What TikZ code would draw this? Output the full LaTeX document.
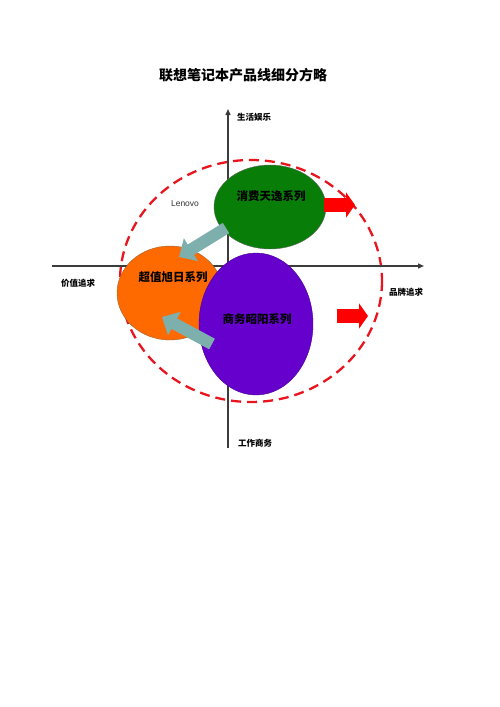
\documentclass[tikz,border=0pt]{standalone}
\usepackage{fontspec}
\setmainfont{Noto Sans CJK SC}
\newfontfamily\latinfont{Liberation Sans}
\usepackage{tikz}
\usetikzlibrary{arrows.meta,shapes.geometric}

\definecolor{tianyigreen}{RGB}{8,125,8}
\definecolor{xuriorange}{RGB}{255,106,0}
\definecolor{zhaoyangpurple}{RGB}{102,0,204}
\definecolor{movegray}{RGB}{125,175,172}
\definecolor{axisgray}{RGB}{60,60,60}
\definecolor{marketred}{RGB}{232,20,30}

\tikzset{
    series/.style={ellipse,draw,thin,inner sep=0pt},
    seriestext/.style={font=\bfseries\fontsize{11.5}{12}\selectfont,text=black},
    axislabel/.style={font=\bfseries\fontsize{8.5}{9}\selectfont,inner sep=0pt},
    movearrow/.style={draw=movegray,line width=12pt,-{Triangle[length=14pt,width=26pt]}},
    pusharrow/.style={draw=red,line width=14pt,-{Triangle[length=9pt,width=25pt]}}
}

\begin{document}
\begin{tikzpicture}[x=1pt,y=-1pt]
        \useasboundingbox (0,0) rectangle (500,707);
        \node[font=\bfseries\fontsize{14}{15}\selectfont] (title) at (243,75) {联想笔记本产品线细分方略};
        % market circle
        \draw[marketred,line width=2.3pt,dash pattern=on 10pt off 6pt] (251,281) ellipse [x radius=131,y radius=121];
        % axes
        \coordinate (west) at (52,266);
        \coordinate (east) at (424,266);
        \coordinate (south) at (228,448);
        \coordinate (north) at (228,109);
        \draw[axisgray,line width=1.4pt,-{Triangle[length=6pt,width=5pt]}] (west) -- (east);
        \draw[axisgray,line width=1.4pt,-{Triangle[length=6pt,width=5pt]}] (south) -- (north);
        \node[axislabel,anchor=west] (yule) at (237,117) {生活娱乐};
        \node[axislabel,anchor=west] (shangwu) at (238,443) {工作商务};
        \node[axislabel] (jiazhi) at (78,283) {价值追求};
        \node[axislabel] (pinpai) at (406,292) {品牌追求};
        \node[font=\latinfont\fontsize{8.5}{9}\selectfont,text=black!80] (lenovo) at (185,204) {Lenovo};
        % series
        \node[series,fill=tianyigreen,draw=black!60,minimum width=112pt,minimum height=84pt] (tianyi) at (270,207) {};
        \node[series,fill=xuriorange,draw=brown!80!black,minimum width=106pt,minimum height=94pt] (xuri) at (170,293) {};
        \node[series,fill=zhaoyangpurple,draw=zhaoyangpurple!70!black,minimum width=114pt,minimum height=142pt] (zhaoyang) at (256,324) {};
        \node[seriestext] (tianyitext) at (271,196) {消费天逸系列};
        \node[seriestext] (xuritext) at (173,277) {超值旭日系列};
        \node[seriestext] (zhaoyangtext) at (257,319) {商务昭阳系列};
        % moves
        \coordinate (tianyitail) at (226,228);
        \coordinate (tianyihead) at (179,257);
        \coordinate (zhaoyangtail) at (212,344);
        \coordinate (zhaoyanghead) at (162,317);
        \draw[movearrow] (tianyitail) -- (tianyihead);
        \draw[movearrow] (zhaoyangtail) -- (zhaoyanghead);
        \coordinate (pushatail) at (324,205);
        \coordinate (pushahead) at (355,205);
        \coordinate (pushbtail) at (337,316);
        \coordinate (pushbhead) at (368,316);
        \draw[pusharrow] (pushatail) -- (pushahead);
        \draw[pusharrow] (pushbtail) -- (pushbhead);
\end{tikzpicture}
\end{document}
